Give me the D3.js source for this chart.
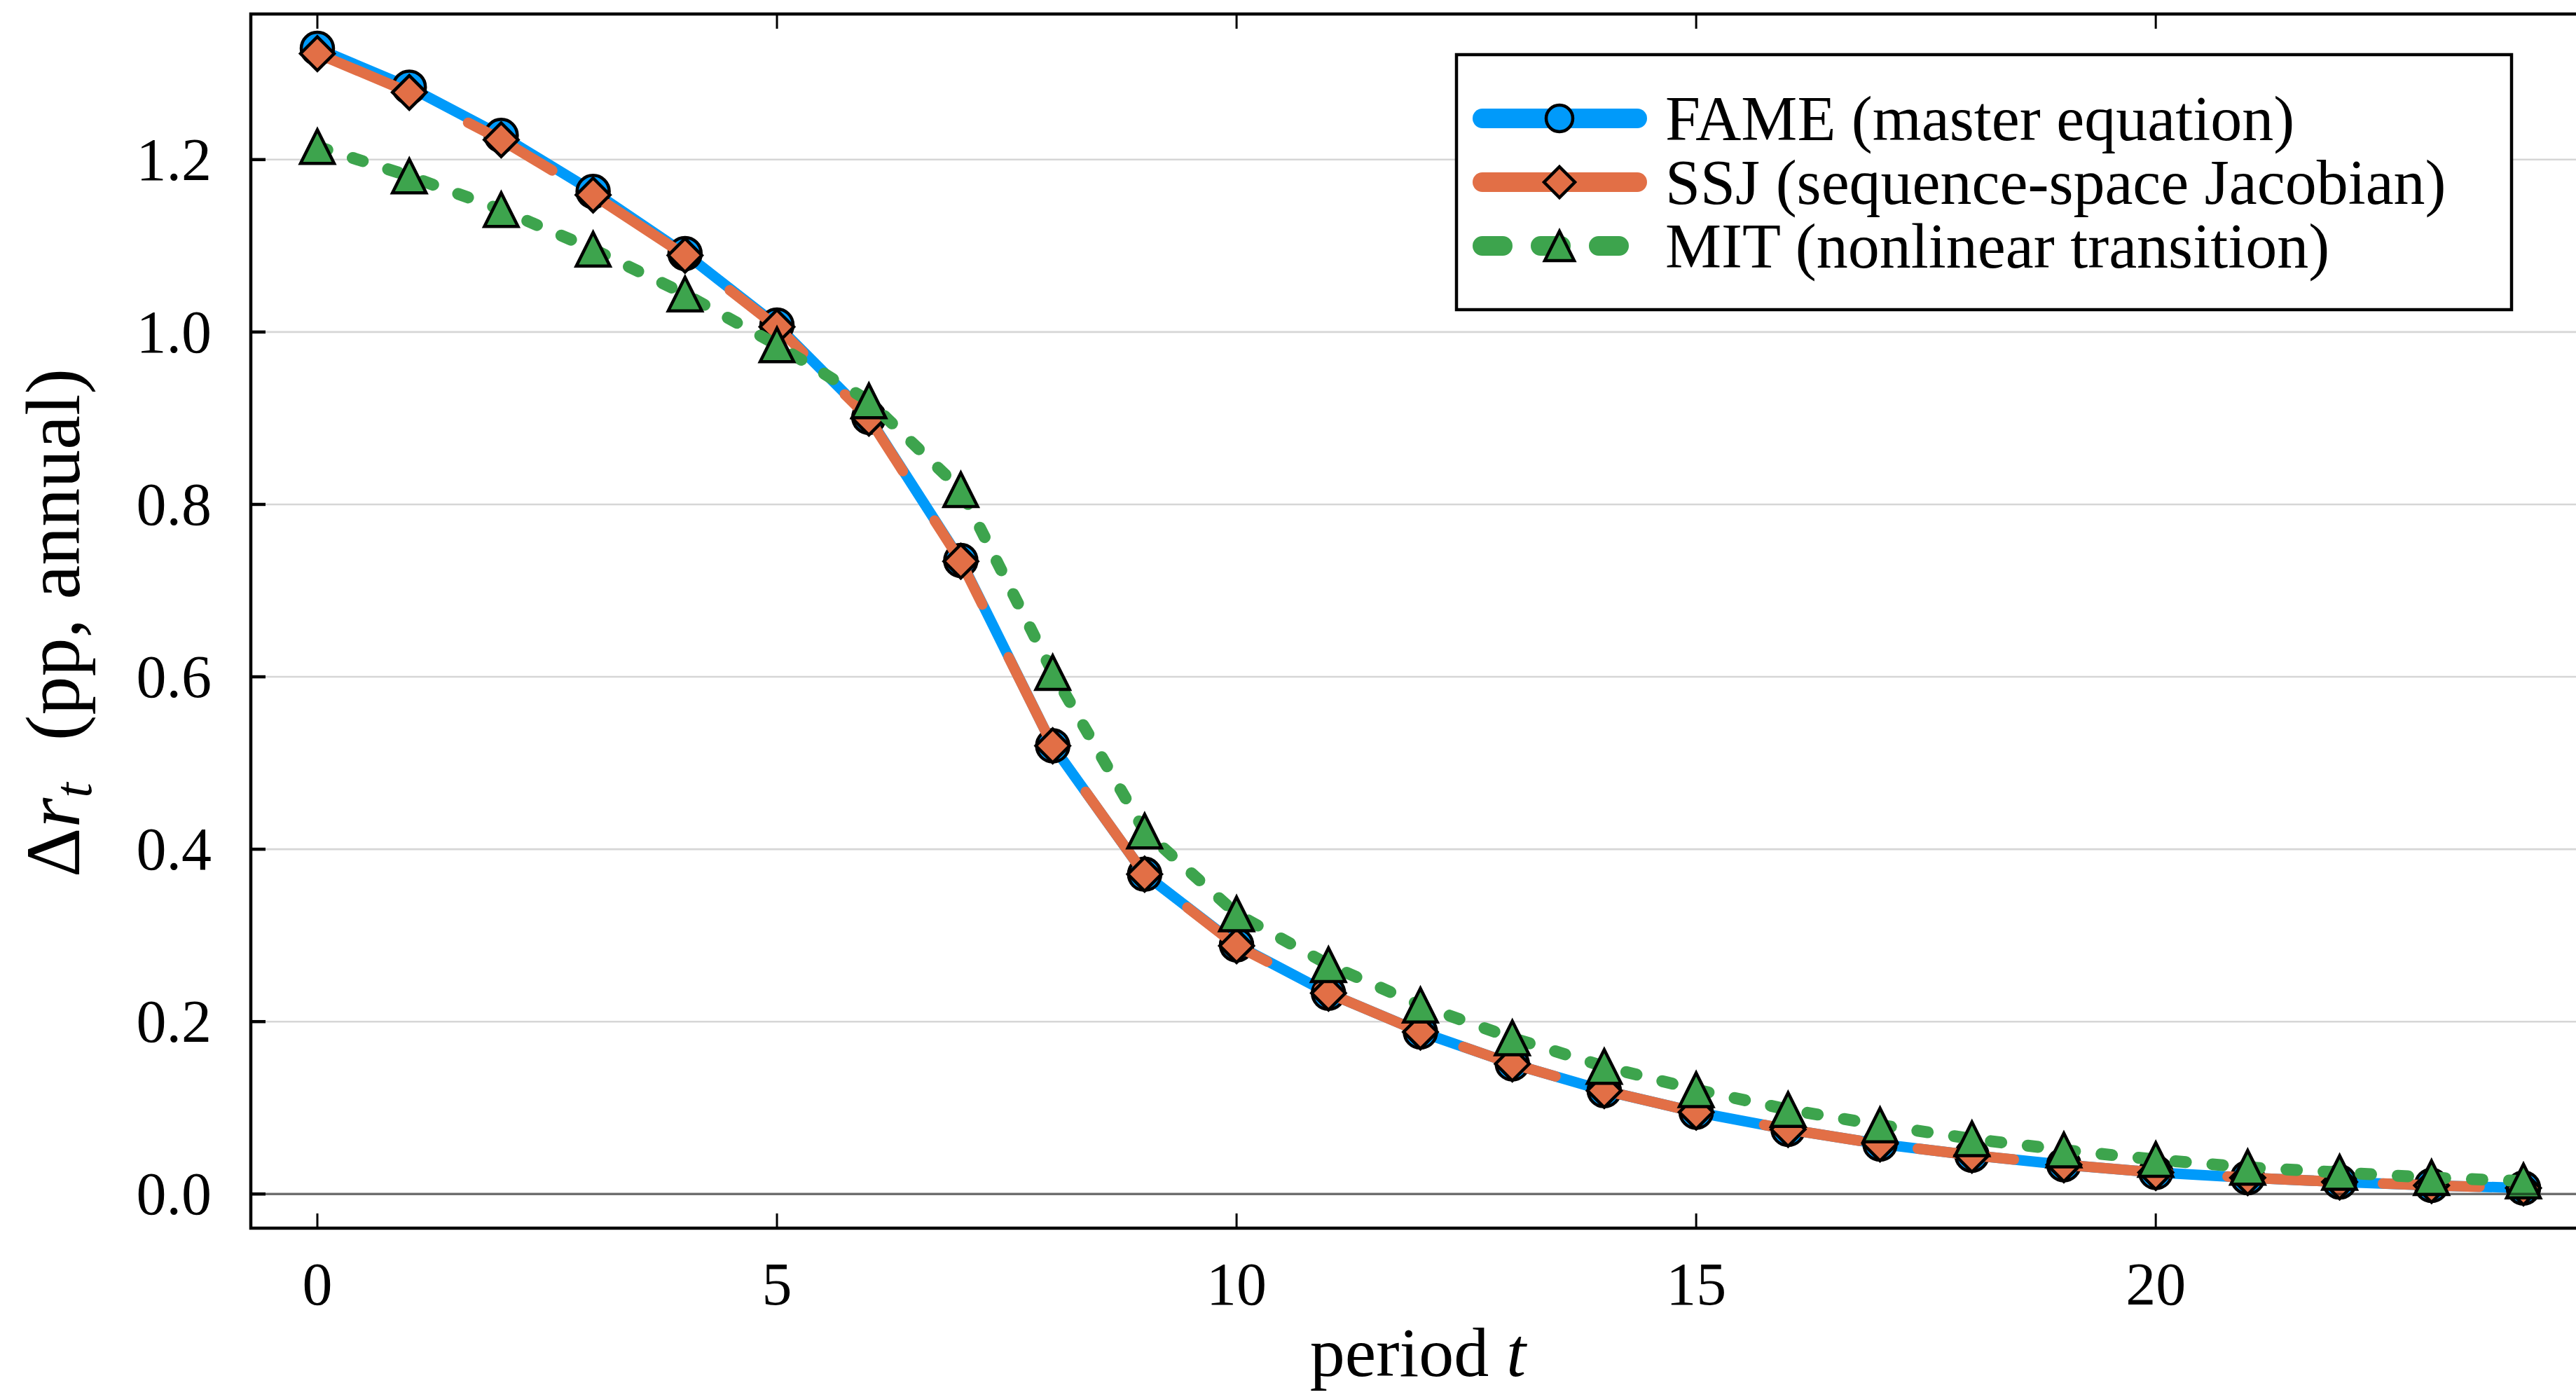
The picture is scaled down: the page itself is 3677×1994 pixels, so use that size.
<!DOCTYPE html>
<html lang="en">
<head>
<meta charset="utf-8">
<title>Interest rate response: FAME vs SSJ vs MIT</title>
<script src="https://cdn.jsdelivr.net/npm/d3@7"></script>
<style>
  body { margin: 0; background: #fff; }
  svg { display: block; font-family: "Liberation Serif", "DejaVu Serif", serif; }
</style>
</head>
<body>
<svg id="chart" width="3677" height="1994"></svg>
<script>
// data (pp, annual)
const periods = [0, 1, 2, 3, 4, 5, 6, 7, 8, 9, 10, 11, 12, 13, 14, 15, 16, 17, 18, 19, 20, 21, 22, 23, 24];
const fame = [1.329, 1.284, 1.228, 1.163, 1.091, 1.008, 0.901, 0.735, 0.520, 0.371, 0.289, 0.233, 0.188,
              0.151, 0.120, 0.095, 0.075, 0.058, 0.045, 0.034, 0.025, 0.019, 0.014, 0.010, 0.007];
const ssj  = [1.323, 1.278, 1.223, 1.159, 1.089, 1.006, 0.900, 0.734, 0.520, 0.371, 0.288, 0.233, 0.188,
              0.151, 0.120, 0.095, 0.075, 0.058, 0.045, 0.034, 0.025, 0.019, 0.014, 0.010, 0.007];
const mit  = [1.215, 1.181, 1.142, 1.096, 1.044, 0.985, 0.920, 0.817, 0.605, 0.421, 0.325, 0.266, 0.219,
              0.181, 0.148, 0.121, 0.098, 0.080, 0.064, 0.051, 0.040, 0.031, 0.025, 0.019, 0.015];
const seriesNames = ["FAME (master equation)", "SSJ (sequence-space Jacobian)", "MIT (nonlinear transition)"];
const xTicks = [0, 5, 10, 15, 20];
const yTicks = [0.0, 0.2, 0.4, 0.6, 0.8, 1.0, 1.2];

// layout
const plot = { left: 358, top: 20, right: 3697, bottom: 1753 };
const svg = d3.select("#chart");
svg.append("rect").attr("width", 3677).attr("height", 1994).attr("fill", "#fff");

const x = d3.scaleLinear().domain([-0.724, 24.724]).range([plot.left, plot.right]);
const y = d3.scaleLinear().domain([-0.0396, 1.3689]).range([plot.bottom, plot.top]);

const series = [
  { name: seriesNames[0], values: fame, color: "#009AFA", marker: "circle",   width: 15, dash: null },
  { name: seriesNames[1], values: ssj,  color: "#E26F46", marker: "diamond",  width: 15, dash: "138,84", offset: -15 },
  { name: seriesNames[2], values: mit,  color: "#3DA44D", marker: "triangle", width: 17, dash: "15,38", offset: 0 }
];

// marker shapes
function drawMarker(g, type, cx, cy, fill, s) {
  if (type === "circle") {
    g.append("circle").attr("cx", cx).attr("cy", cy).attr("r", s.r)
      .attr("fill", fill).attr("stroke", "#000").attr("stroke-width", 4.5);
  } else if (type === "diamond") {
    const r = s.d;
    g.append("path")
      .attr("d", `M${cx},${cy - r}L${cx + r},${cy}L${cx},${cy + r}L${cx - r},${cy}Z`)
      .attr("fill", fill).attr("stroke", "#000").attr("stroke-width", 4.5)
      .attr("stroke-linejoin", "miter");
  } else {
    const h = s.th, w = s.tw;
    g.append("path")
      .attr("d", `M${cx},${cy - h}L${cx + w},${cy + h}L${cx - w},${cy + h}Z`)
      .attr("fill", fill).attr("stroke", "#000").attr("stroke-width", 4.5)
      .attr("stroke-linejoin", "miter").attr("stroke-miterlimit", 10);
  }
}

// grid
const grid = svg.append("g");
grid.selectAll("line").data(yTicks).enter().append("line")
  .attr("x1", plot.left).attr("x2", plot.right)
  .attr("y1", d => y(d)).attr("y2", d => y(d))
  .attr("stroke", "#d6d6d6").attr("stroke-width", 2.6);

// series: line then markers, in order
const line = d3.line().x((d, i) => x(periods[i])).y(d => y(d));
const plotMarker = { r: 23, d: 24, th: 24, tw: 24 };
series.forEach(s => {
  const g = svg.append("g");
  const p = g.append("path").attr("d", line(s.values))
    .attr("fill", "none").attr("stroke", s.color).attr("stroke-width", s.width)
    .attr("stroke-linecap", "round").attr("stroke-linejoin", "round");
  if (s.dash) p.attr("stroke-dasharray", s.dash).attr("stroke-dashoffset", s.offset);
  s.values.forEach((v, i) => drawMarker(g, s.marker, x(periods[i]), y(v), s.color, plotMarker));
});

// zero line drawn on top, semi transparent
svg.append("line")
  .attr("x1", plot.left).attr("x2", plot.right)
  .attr("y1", y(0)).attr("y2", y(0))
  .attr("stroke", "#000").attr("stroke-opacity", 0.5).attr("stroke-width", 3.5);

// frame
const frame = svg.append("g").attr("stroke", "#000").attr("fill", "none");
frame.append("rect")
  .attr("x", plot.left).attr("y", plot.top)
  .attr("width", plot.right - plot.left).attr("height", plot.bottom - plot.top)
  .attr("stroke-width", 4.5);

// ticks (inward)
frame.selectAll("line.yt").data(yTicks).enter().append("line")
  .attr("x1", plot.left).attr("x2", plot.left + 21)
  .attr("y1", d => y(d)).attr("y2", d => y(d)).attr("stroke-width", 4.5);
frame.selectAll("line.xb").data(xTicks).enter().append("line")
  .attr("x1", d => x(d)).attr("x2", d => x(d))
  .attr("y1", plot.bottom).attr("y2", plot.bottom - 21).attr("stroke-width", 3);
frame.selectAll("line.xt").data(xTicks).enter().append("line")
  .attr("x1", d => x(d)).attr("x2", d => x(d))
  .attr("y1", plot.top).attr("y2", plot.top + 21).attr("stroke-width", 3);

// tick labels
svg.append("g").selectAll("text").data(yTicks).enter().append("text")
  .attr("x", 302).attr("y", d => y(d) + 29)
  .attr("text-anchor", "end").attr("font-size", 86)
  .text(d => d3.format(".1f")(d));
svg.append("g").selectAll("text").data(xTicks).enter().append("text")
  .attr("x", d => x(d)).attr("y", 1862)
  .attr("text-anchor", "middle").attr("font-size", 86)
  .text(d => d);

// axis titles
const xl = svg.append("text").attr("x", 2024).attr("y", 1964)
  .attr("text-anchor", "middle").attr("font-size", 100);
xl.append("tspan").text("period ");
xl.append("tspan").attr("font-style", "italic").text("t");

const yl = svg.append("text")
  .attr("transform", "translate(113,889) rotate(-90)")
  .attr("text-anchor", "middle").attr("font-size", 110);
yl.append("tspan").text("Δ");
yl.append("tspan").attr("font-style", "italic").text("r");
yl.append("tspan").attr("font-style", "italic").attr("font-size", 77).attr("dy", 17).text("t");
yl.append("tspan").attr("dy", -17).attr("dx", 60).text("(pp, annual)");

// legend
const legend = svg.append("g");
legend.append("rect")
  .attr("x", 2079).attr("y", 78).attr("width", 1506).attr("height", 364)
  .attr("fill", "#fff").attr("stroke", "#000").attr("stroke-width", 4.5);
const legendMarker = { r: 19, d: 22, th: 21, tw: 21 };
const rowY = [169, 260, 351];
series.forEach((s, i) => {
  const cy = rowY[i];
  const ln = legend.append("line")
    .attr("x1", 2116).attr("x2", 2337).attr("y1", cy).attr("y2", cy)
    .attr("stroke", s.color).attr("stroke-width", 28).attr("stroke-linecap", "round");
  if (s.marker === "triangle") ln.attr("stroke-dasharray", "29,54");
  drawMarker(legend, s.marker, 2226, cy, s.color, legendMarker);
  legend.append("text").attr("x", 2377).attr("y", cy + 31)
    .attr("font-size", 90).text(s.name);
});
</script>
</body>
</html>
